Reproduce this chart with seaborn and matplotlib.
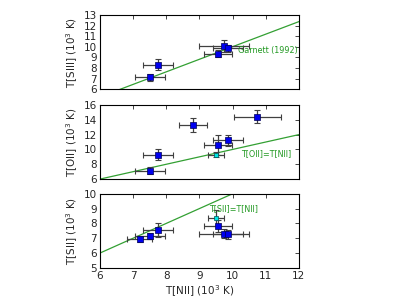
import numpy as np
import pandas as pd
import matplotlib
matplotlib.use("Agg")
import matplotlib.pyplot as plt
import seaborn as sns

# T[NII] per object (10^3 K) and x errors
tn2 = {"A": 7.2, "B": 7.5, "C": 7.75, "D": 8.8, "E": 9.5, "F": 9.55, "G": 9.75, "H": 9.85, "I": 10.75}
tn2_err = {"A": 0.37, "B": 0.45, "C": 0.45, "D": 0.42, "E": 0.25, "F": 0.42, "G": 0.75, "H": 0.45, "I": 0.7}

s3_obj = ["B", "C", "F", "G", "H"]
s3_val = [7.1, 8.3, 9.35, 10.05, 9.85]
s3_err = [0.35, 0.5, 0.3, 0.55, 0.35]

o2_obj = ["B", "C", "D", "E", "F", "H", "I"]
o2_val = [7.15, 9.3, 13.3, 9.3, 10.6, 11.25, 14.4]
o2_err = [0.5, 0.7, 1.0, 0.3, 1.4, 0.75, 0.9]

s2_obj = ["A", "B", "C", "E", "F", "G", "H"]
s2_val = [6.92, 7.18, 7.55, 8.35, 7.85, 7.3, 7.28]
s2_err = [0.15, 0.2, 0.45, 0.55, 0.4, 0.3, 0.3]

sns.set_style("white")
plt.rcParams["font.family"] = ["DejaVu Sans"]
plt.rcParams["font.size"] = 7.5

fig = plt.figure(figsize=(3.98, 2.99), dpi=100)
L, W = 0.251, 0.500
ax1 = fig.add_axes([L, 0.702, W, 0.248])
ax2 = fig.add_axes([L, 0.401, W, 0.248])
ax3 = fig.add_axes([L, 0.104, W, 0.248])

green = "#33a033"
ecol = "#404040"

def panel(ax, objs, vals, errs, ylim, ylabel, line_x, line_y, text, tpos, yticks):
    df = pd.DataFrame({
        "x": [tn2[o] for o in objs],
        "xerr": [tn2_err[o] for o in objs],
        "y": vals, "yerr": errs,
        "kind": ["cyan" if o == "E" else "blue" for o in objs],
    })
    ax.plot(line_x, line_y, color=green, lw=0.9, zorder=1)
    ax.errorbar(df["x"], df["y"], xerr=df["xerr"], yerr=df["yerr"], fmt="none",
                ecolor=ecol, elinewidth=0.9, capsize=2, capthick=0.8, zorder=2)
    sub = df[df.kind == "blue"]
    sns.scatterplot(data=sub, x="x", y="y", ax=ax, marker="s", s=17, color="#0000ee",
                    edgecolor="#000055", linewidth=0.5, zorder=3, legend=False)
    sub = df[df.kind == "cyan"]
    if len(sub):
        sns.scatterplot(data=sub, x="x", y="y", ax=ax, marker="s", s=11, color="#00e5e5",
                        edgecolor="#005555", linewidth=0.5, zorder=3, legend=False)
    ax.text(tpos[0], tpos[1], text, color="#229922", fontsize=5.8, va="center", ha="left")
    ax.set_xlim(6, 12)
    ax.set_ylim(*ylim)
    ax.set_yticks(yticks)
    ax.set_xticks(range(6, 13))
    ax.set_ylabel(ylabel, fontsize=7.5, labelpad=3)
    ax.set_xlabel("")
    ax.tick_params(direction="in", top=True, right=True, length=3, width=0.6, labelsize=7.5, pad=2)
    for s in ax.spines.values():
        s.set_color("black")
        s.set_linewidth(0.8)

xs = np.array([6.0, 12.0])
panel(ax1, s3_obj, s3_val, s3_err, (6, 13), "T[SIII] (10$^3$ K)",
      xs, 1.1857 * xs - 1.857, "Garnett (1992)", (10.15, 9.6), range(6, 14))
panel(ax2, o2_obj, o2_val, o2_err, (6, 16), "T[OII] (10$^3$ K)",
      xs, xs, "T[OII]=T[NII]", (10.27, 9.5), range(6, 17, 2))
panel(ax3, s2_obj, s2_val, s2_err, (5, 10), "T[SII] (10$^3$ K)",
      xs, xs, "T[SII]=T[NII]", (9.3, 9.0), range(5, 11))

ax1.set_xticklabels([])
ax2.set_xticklabels([])
ax3.set_xlabel("T[NII] (10$^3$ K)", fontsize=7.5, labelpad=2)

fig.savefig("out.png", dpi=100)
